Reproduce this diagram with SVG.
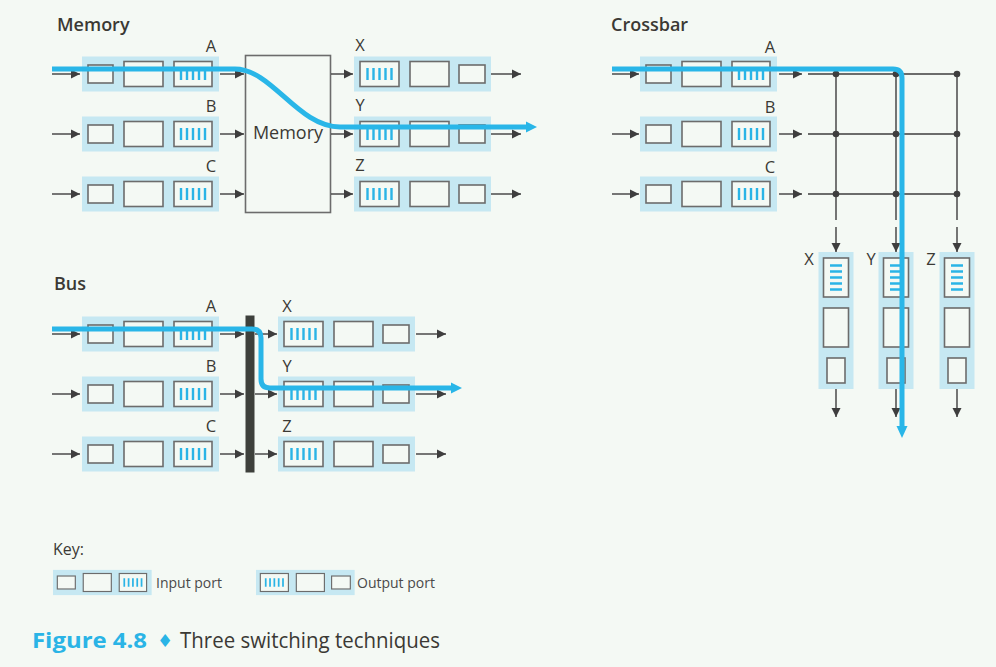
<svg xmlns="http://www.w3.org/2000/svg" xmlns:xlink="http://www.w3.org/1999/xlink" width="996" height="667" viewBox="0 0 996 667">
<style>
.port{fill:#c6e8f2;stroke:none}
.cell{fill:#f4f9f4;stroke:#6c6c6c;stroke-width:1.6}
.bars{stroke:#2ab4e6;stroke-width:2.4;fill:none}
.ln{stroke:#3e3e3e;stroke-width:1.4;fill:none}
.arr{stroke:#3e3e3e;stroke-width:1.4;fill:none;marker-end:url(#ah)}
.title{font-family:"Open Sans","Liberation Sans",sans-serif;font-size:18px;font-weight:600;fill:#3b3934}
.lbl{font-family:"Open Sans","Liberation Sans",sans-serif;font-size:16.5px;fill:#3b3934}
.mem{font-family:"Open Sans","Liberation Sans",sans-serif;font-size:18px;fill:#3b3934}
.key{font-family:"Open Sans","Liberation Sans",sans-serif;font-size:14px;fill:#4a4a4a}
.blue{stroke:#29b6e8;stroke-width:5;fill:none}
.bluehead{fill:#29b6e8}
.dot{fill:#3e3e3e}
</style>
<defs>
<marker id="ah" markerWidth="10" markerHeight="10" refX="9" refY="5" orient="auto" markerUnits="userSpaceOnUse">
<path d="M0,0.5 L9,5 L0,9.5 Z" fill="#3e3e3e"/>
</marker>
<g id="inport">
<rect class="port" x="0" y="-17.5" width="137" height="35"/>
<rect class="cell" x="6" y="-9" width="25" height="18"/>
<rect class="cell" x="42" y="-12.5" width="39" height="25"/>
<rect class="cell" x="92" y="-12.5" width="38" height="25"/>
<path class="bars" d="M99,-6V6M105,-6V6M111,-6V6M117,-6V6M123,-6V6"/>
</g>
<g id="outport">
<rect class="port" x="0" y="-17.5" width="137" height="35"/>
<rect class="cell" x="6" y="-12.5" width="39" height="25"/>
<path class="bars" d="M13.5,-6V6M19.5,-6V6M25.5,-6V6M31.5,-6V6M37.5,-6V6"/>
<rect class="cell" x="56" y="-12.5" width="39" height="25"/>
<rect class="cell" x="105" y="-9" width="26" height="18"/>
</g>
<g id="vport">
<rect class="port" x="-17.5" y="0" width="35" height="137"/>
<rect class="cell" x="-12.5" y="6" width="25" height="39"/>
<path class="bars" d="M-6,13.5H6M-6,19.5H6M-6,25.5H6M-6,31.5H6M-6,37.5H6"/>
<rect class="cell" x="-12.5" y="56" width="25" height="39"/>
<rect class="cell" x="-9" y="106" width="18" height="25"/>
</g>
</defs>
<rect x="0" y="0" width="996" height="667" fill="#f4f9f4"/>

<!-- Memory section -->
<text class="title" x="57" y="31">Memory</text>
<g id="mem-in-A"><use xlink:href="#inport" x="82" y="74"/><text class="lbl" x="211" y="52" text-anchor="middle">A</text></g>
<g id="mem-in-B"><use xlink:href="#inport" x="82" y="134"/><text class="lbl" x="211" y="112" text-anchor="middle">B</text></g>
<g id="mem-in-C"><use xlink:href="#inport" x="82" y="194"/><text class="lbl" x="211" y="172" text-anchor="middle">C</text></g>
<g id="mem-switch"><rect class="cell" x="245.5" y="55.5" width="85" height="157"/><text class="mem" x="288" y="139" text-anchor="middle">Memory</text></g>
<g id="mem-out-X"><use xlink:href="#outport" x="354" y="74"/><text class="lbl" x="360" y="51" text-anchor="middle">X</text></g>
<g id="mem-out-Y"><use xlink:href="#outport" x="354" y="134"/><text class="lbl" x="360" y="111" text-anchor="middle">Y</text></g>
<g id="mem-out-Z"><use xlink:href="#outport" x="354" y="194"/><text class="lbl" x="360" y="171" text-anchor="middle">Z</text></g>

<!-- Crossbar section -->
<text class="title" x="611" y="31">Crossbar</text>
<g id="cb-in-A"><use xlink:href="#inport" x="640" y="74"/><text class="lbl" x="770" y="53" text-anchor="middle">A</text></g>
<g id="cb-in-B"><use xlink:href="#inport" x="640" y="134"/><text class="lbl" x="770" y="113" text-anchor="middle">B</text></g>
<g id="cb-in-C"><use xlink:href="#inport" x="640" y="194"/><text class="lbl" x="770" y="173" text-anchor="middle">C</text></g>
<g id="cb-out-X"><use xlink:href="#vport" x="836" y="252"/><text class="lbl" x="809" y="265" text-anchor="middle">X</text></g>
<g id="cb-out-Y"><use xlink:href="#vport" x="896" y="252"/><text class="lbl" x="871" y="265" text-anchor="middle">Y</text></g>
<g id="cb-out-Z"><use xlink:href="#vport" x="957" y="252"/><text class="lbl" x="931" y="265" text-anchor="middle">Z</text></g>
<g id="cb-fabric">
<path class="ln" d="M808,74H957M808,134H957M808,194H957M836,74V220M896,74V220M957,74V220"/>
<circle class="dot" cx="836" cy="74" r="3.3"/><circle class="dot" cx="896" cy="74" r="3.3"/><circle class="dot" cx="957" cy="74" r="3.3"/>
<circle class="dot" cx="836" cy="134" r="3.3"/><circle class="dot" cx="896" cy="134" r="3.3"/><circle class="dot" cx="957" cy="134" r="3.3"/>
<circle class="dot" cx="836" cy="194" r="3.3"/><circle class="dot" cx="896" cy="194" r="3.3"/><circle class="dot" cx="957" cy="194" r="3.3"/>
</g>

<!-- Bus section -->
<text class="title" x="54" y="290">Bus</text>
<g id="bus-in-A"><use xlink:href="#inport" x="82" y="334"/><text class="lbl" x="211" y="312" text-anchor="middle">A</text></g>
<g id="bus-in-B"><use xlink:href="#inport" x="82" y="394"/><text class="lbl" x="211" y="372" text-anchor="middle">B</text></g>
<g id="bus-in-C"><use xlink:href="#inport" x="82" y="454"/><text class="lbl" x="211" y="432" text-anchor="middle">C</text></g>
<g id="bus-bar"><rect x="245.5" y="315.5" width="9" height="157" fill="#3d403b"/></g>
<g id="bus-out-X"><use xlink:href="#outport" x="278" y="334"/><text class="lbl" x="287" y="312" text-anchor="middle">X</text></g>
<g id="bus-out-Y"><use xlink:href="#outport" x="278" y="394"/><text class="lbl" x="287" y="372" text-anchor="middle">Y</text></g>
<g id="bus-out-Z"><use xlink:href="#outport" x="278" y="454"/><text class="lbl" x="287" y="432" text-anchor="middle">Z</text></g>

<!-- Connectors -->
<g id="connectors">
<path class="arr" d="M52,74H80"/><path class="arr" d="M52,134H80"/><path class="arr" d="M52,194H80"/>
<path class="arr" d="M220,74H244"/><path class="arr" d="M220,134H244"/><path class="arr" d="M220,194H244"/>
<path class="arr" d="M331,74H353"/><path class="arr" d="M331,134H353"/><path class="arr" d="M331,194H353"/>
<path class="arr" d="M491,74H521"/><path class="arr" d="M491,134H521"/><path class="arr" d="M491,194H521"/>

<path class="arr" d="M612,74H639"/><path class="arr" d="M612,134H639"/><path class="arr" d="M612,194H639"/>
<path class="arr" d="M779,74H802"/><path class="arr" d="M779,134H802"/><path class="arr" d="M779,194H802"/>
<path class="arr" d="M836,227V252"/><path class="arr" d="M896,227V252"/><path class="arr" d="M957,227V252"/>
<path class="arr" d="M836,389V417"/><path class="arr" d="M896,389V417"/><path class="arr" d="M957,389V417"/>

<path class="arr" d="M52,334H80"/><path class="arr" d="M52,394H80"/><path class="arr" d="M52,454H80"/>
<path class="arr" d="M220,334H244"/><path class="arr" d="M220,394H244"/><path class="arr" d="M220,454H244"/>
<path class="arr" d="M255,334H277"/><path class="arr" d="M255,394H277"/><path class="arr" d="M255,454H277"/>
<path class="arr" d="M416,334H446"/><path class="arr" d="M416,394H446"/><path class="arr" d="M416,454H446"/>

<!-- highlighted paths -->
<path class="blue" d="M52,69H235C272,69 298,127 340,127H528"/>
<path class="bluehead" d="M537,127L526,121.5L526,132.5Z"/>
<path class="blue" d="M612,69H893Q902,69 902,78V427"/>
<path class="bluehead" d="M902,438L896.5,426L907.5,426Z"/>
<path class="blue" d="M52,329H252Q261,329 261,338V379Q261,388 270,388H452"/>
<path class="bluehead" d="M462,388L451,382.5L451,393.5Z"/>
</g>

<!-- Key -->
<text class="title" x="53" y="555" style="font-weight:400;font-size:16px">Key:</text>
<g id="key-input"><use xlink:href="#inport" transform="translate(53,582.5) scale(0.72)"/><text class="key" x="156" y="588">Input port</text></g>
<g id="key-output"><use xlink:href="#outport" transform="translate(256,582.5) scale(0.72)"/><text class="key" x="357" y="588">Output port</text></g>

<!-- Caption -->
<text x="32" y="648" style="font-family:'Open Sans','Liberation Sans',sans-serif;font-size:22px;font-weight:700;fill:#2ab4e6" textLength="115" lengthAdjust="spacingAndGlyphs">Figure 4.8</text>
<text x="165" y="647" text-anchor="middle" style="font-family:'DejaVu Sans',sans-serif;font-size:18px;fill:#2ab4e6">♦</text>
<text x="180" y="648" style="font-family:'Open Sans','Liberation Sans',sans-serif;font-size:21px;fill:#3b3934" textLength="260" lengthAdjust="spacingAndGlyphs">Three switching techniques</text>
</svg>
